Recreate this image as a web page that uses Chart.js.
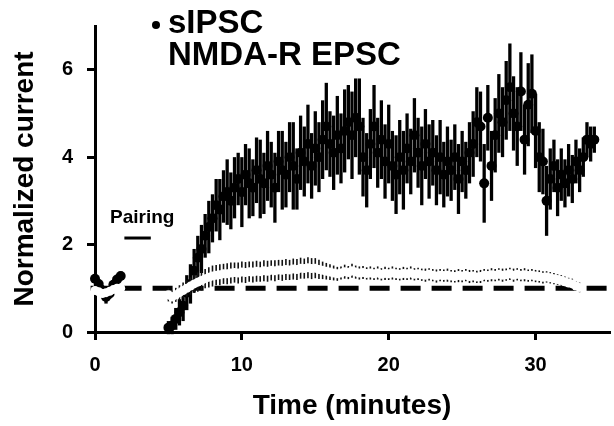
<!DOCTYPE html>
<html>
<head>
<meta charset="utf-8">
<script src="https://cdn.jsdelivr.net/npm/chart.js@4"></script>
<style>
  html, body { margin: 0; padding: 0; background: #fff; }
  #wrap { width: 614px; height: 426px; }
</style>
</head>
<body>
<div id="wrap"><canvas id="c"></canvas></div>
<script>
// time points (minutes), shared by both series
var time = [0, 0.25, 0.5, 0.75, 1.0, 1.25, 1.5, 1.75,
  5, 5.25, 5.5, 5.75, 6, 6.25, 6.5, 6.75, 7, 7.25, 7.5, 7.75, 8, 8.25, 8.5, 8.75, 9, 9.25, 9.5, 9.75,
  10, 10.25, 10.5, 10.75, 11, 11.25, 11.5, 11.75, 12, 12.25, 12.5, 12.75, 13, 13.25, 13.5, 13.75,
  14, 14.25, 14.5, 14.75, 15, 15.25, 15.5, 15.75, 16, 16.25, 16.5, 16.75, 17, 17.25, 17.5, 17.75,
  18, 18.25, 18.5, 18.75, 19, 19.25, 19.5, 19.75, 20, 20.25, 20.5, 20.75, 21, 21.25, 21.5, 21.75,
  22, 22.25, 22.5, 22.75, 23, 23.25, 23.5, 23.75, 24, 24.25, 24.5, 24.75, 25, 25.25, 25.5, 25.75,
  26, 26.25, 26.5, 26.75, 27, 27.25, 27.5, 27.75, 28, 28.25, 28.5, 28.75, 29, 29.25, 29.5, 29.75,
  30, 30.25, 30.5, 30.75, 31, 31.25, 31.5, 31.75, 32, 32.25, 32.5, 32.75, 33, 33.25, 33.5, 33.75, 34];

// sIPSC normalized amplitude and SEM
var sipsc = [1.22, 1.1, 0.95, 0.8, 0.88, 1.08, 1.2, 1.28,
  0.1, 0.15, 0.3, 0.45, 0.6,
  0.9, 1.1, 1.4, 1.7, 1.9, 2.2, 2.4, 2.6,
  2.9, 2.8, 3.1, 3.2, 3.0, 3.3, 3.5, 3.2,
  3.6, 3.4, 3.3, 3.7, 3.5, 3.4, 3.8, 3.6,
  3.3, 3.9, 3.7, 3.6, 4.0, 3.8, 3.5, 4.1,
  3.9, 4.3, 3.8, 4.2, 4.0, 4.4, 4.7, 4.3,
  4.1, 4.5, 4.2, 4.6, 4.8, 4.5, 4.9, 4.7,
  4.0, 3.7, 4.3, 4.7, 4.1, 4.4, 3.9, 4.3,
  3.8, 3.6, 4.0, 3.7, 4.2, 3.9, 4.5, 4.1,
  3.8, 4.3, 3.9, 4.1, 3.7, 4.0, 3.6, 3.9,
  3.7, 4.0, 3.5, 3.9, 3.7, 4.1, 4.3, 4.8,
  4.7, 3.4, 4.9, 3.8, 4.5, 5.0, 4.8, 5.3,
  5.6, 5.0, 4.7, 5.5, 4.4, 5.2, 5.45, 4.6,
  4.0, 3.9, 3.0, 3.5, 3.8, 3.3, 3.6, 3.4,
  3.7, 3.5, 3.9, 3.7, 4.0, 4.4, 4.3, 4.4];
var sipscErr = [0.1, 0.1, 0.12, 0.15, 0.12, 0.1, 0.1, 0.1,
  0.15, 0.2, 0.25, 0.3, 0.35,
  0.4, 0.45, 0.5, 0.5, 0.55, 0.5, 0.6, 0.55,
  0.6, 0.7, 0.6, 0.75, 0.65, 0.7, 0.6, 0.8,
  0.7, 0.8, 0.65, 0.75, 0.9, 0.7, 0.8, 0.75,
  0.8, 0.7, 0.9, 0.75, 0.8, 1.0, 0.7, 0.85,
  0.8, 0.9, 0.75, 0.85, 0.8, 0.9, 1.0, 0.75,
  0.85, 0.9, 0.8, 0.95, 0.85, 1.0, 0.9, 1.1,
  0.9, 0.85, 0.8, 0.95, 0.8, 0.9, 0.85, 0.9,
  0.8, 0.9, 0.85, 0.9, 0.8, 0.75, 0.85, 0.8,
  0.9, 0.8, 0.85, 0.75, 0.8, 0.85, 0.75, 0.8,
  0.7, 0.75, 0.8, 0.7, 0.65, 0.7, 0.75, 0.8,
  0.8, 0.9, 0.75, 0.8, 0.85, 0.9, 0.8, 0.9,
  1.0, 0.85, 0.9, 0.9, 0.8, 0.95, 0.9, 0.85,
  0.8, 0.75, 0.8, 0.7, 0.6, 0.65, 0.6, 0.55,
  0.6, 0.55, 0.5, 0.5, 0.45, 0.4, 0.4, 0.3];

// NMDA-R EPSC normalized amplitude and SEM
var nmda = [0.95, 0.92, 0.88, 0.9, 0.93, 0.97, 1.0, 1.0,
  0.85, 0.8, 0.85, 0.9, 0.95,
  1.0, 1.05, 1.1, 1.14, 1.18, 1.22, 1.25, 1.28,
  1.3, 1.31, 1.33, 1.33, 1.35, 1.36, 1.35, 1.37,
  1.36, 1.38, 1.37, 1.39, 1.38, 1.4, 1.39, 1.41,
  1.4, 1.42, 1.41, 1.43, 1.42, 1.44, 1.43, 1.46,
  1.45, 1.47, 1.45, 1.46, 1.43, 1.41, 1.39, 1.37,
  1.35, 1.33, 1.35, 1.38, 1.36, 1.4, 1.37, 1.35,
  1.36, 1.34, 1.35, 1.33, 1.35, 1.32, 1.34, 1.33,
  1.35, 1.33, 1.32, 1.34, 1.33, 1.35, 1.32, 1.33,
  1.31, 1.3, 1.32, 1.3, 1.28, 1.3, 1.29, 1.3,
  1.28, 1.27, 1.29, 1.28, 1.3, 1.27, 1.28, 1.26,
  1.27, 1.3, 1.29, 1.31, 1.3, 1.32, 1.3, 1.31,
  1.33, 1.3, 1.32, 1.3, 1.31, 1.29, 1.3, 1.28,
  1.27, 1.25, 1.26, 1.24, 1.22, 1.2, 1.18, 1.15,
  1.12, 1.1, 1.05, 1.02, null, null, null, null];
var nmdaErr = [0.08, 0.08, 0.08, 0.08, 0.08, 0.08, 0.08, 0.08,
  0.15, 0.15, 0.16, 0.17, 0.18,
  0.19, 0.2, 0.21, 0.22, 0.23, 0.22, 0.23, 0.24,
  0.23, 0.24, 0.23, 0.24, 0.24, 0.23, 0.24, 0.24,
  0.24, 0.23, 0.24, 0.24, 0.23, 0.24, 0.24, 0.23,
  0.24, 0.23, 0.24, 0.24, 0.23, 0.24, 0.24, 0.24,
  0.23, 0.24, 0.24, 0.23, 0.22, 0.2, 0.19, 0.18,
  0.17, 0.16, 0.15, 0.16, 0.15, 0.16, 0.15, 0.15,
  0.15, 0.14, 0.15, 0.14, 0.15, 0.14, 0.15, 0.14,
  0.15, 0.14, 0.14, 0.15, 0.14, 0.15, 0.14, 0.14,
  0.14, 0.15, 0.14, 0.14, 0.15, 0.14, 0.14, 0.15,
  0.14, 0.14, 0.15, 0.14, 0.14, 0.15, 0.14, 0.14,
  0.15, 0.14, 0.14, 0.15, 0.14, 0.14, 0.15, 0.14,
  0.14, 0.15, 0.14, 0.14, 0.15, 0.14, 0.14, 0.14,
  0.14, 0.14, 0.13, 0.13, 0.13, 0.12, 0.12, 0.12,
  0.12, 0.12, 0.11, 0.11, null, null, null, null];

var baselineX = [-0.3, 35];
var baselineY = [1, 1];
var pairingX = [2.0, 3.8];
var pairingY = [2.15, 2.15];

var xTicks = [0, 10, 20, 30];
var yTicks = [0, 2, 4, 6];

var legendNames = ['sIPSC', 'NMDA-R EPSC'];

function pts(xs, ys) {
  return xs.map(function(v, i) { return {x: v, y: ys[i]}; });
}

var FONT = "'Liberation Sans', Arial, sans-serif";

// draws vertical SEM bars under each dataset's points
var errorBars = {
  id: 'errorBars',
  beforeDatasetDraw: function(chart, args) {
    var ds = chart.data.datasets[args.index];
    if (!ds.errors) return;
    var ctx = chart.ctx, xs = chart.scales.x, ys = chart.scales.y;
    ctx.save();
    ctx.strokeStyle = ds.errorColor;
    ctx.lineWidth = ds.errorWidth;
    ds.data.forEach(function(p, i) {
      if (p.y == null) return;
      var px = xs.getPixelForValue(p.x);
      ctx.beginPath();
      ctx.moveTo(px, ys.getPixelForValue(p.y - ds.errors[i]));
      ctx.lineTo(px, ys.getPixelForValue(p.y + ds.errors[i]));
      ctx.stroke();
    });
    ctx.restore();
  }
};

// legend + "Pairing" label
var labels = {
  id: 'labels',
  afterDraw: function(chart) {
    var ctx = chart.ctx;
    ctx.save();
    ctx.fillStyle = '#000';
    ctx.textBaseline = 'middle';
    ctx.font = 'bold 33px ' + FONT;
    ctx.beginPath();
    ctx.arc(156, 25, 4, 0, Math.PI * 2);
    ctx.fill();
    ctx.fillText(legendNames[0], 168, 24);
    ctx.fillText(legendNames[1], 168, 56);
    ctx.font = 'bold 19px ' + FONT;
    ctx.fillText('Pairing', 110, 218);
    ctx.restore();
  }
};

new Chart(document.getElementById('c'), {
  type: 'scatter',
  data: {
    datasets: [{
      label: legendNames[1],
      data: pts(time, nmda),
      errors: nmdaErr,
      errorColor: '#111',
      errorWidth: 1.6,
      pointRadius: 4.5,
      pointBackgroundColor: '#fff',
      pointBorderWidth: 0,
      clip: false
    }, {
      label: legendNames[0],
      data: pts(time, sipsc),
      errors: sipscErr,
      errorColor: '#000',
      errorWidth: 3.3,
      pointRadius: 5,
      pointBackgroundColor: '#000',
      pointBorderWidth: 0,
      clip: false
    }, {
      label: 'baseline',
      type: 'line',
      data: pts(baselineX, baselineY),
      borderColor: '#000',
      borderWidth: 5,
      borderDash: [20, 11],
      pointRadius: 0,
      clip: false
    }, {
      label: 'Pairing',
      type: 'line',
      data: pts(pairingX, pairingY),
      borderColor: '#000',
      borderWidth: 3,
      pointRadius: 0
    }]
  },
  options: {
    responsive: true,
    maintainAspectRatio: false,
    animation: false,
    layout: { padding: { top: 18, right: 0, left: 0, bottom: 0 } },
    plugins: {
      legend: { display: false },
      tooltip: { enabled: false }
    },
    scales: {
      x: {
        type: 'linear',
        min: 0,
        max: 35,
        afterFit: function(s) { s.height = 94; },
        afterBuildTicks: function(s) { s.ticks = xTicks.map(function(v) { return {value: v}; }); },
        grid: { drawOnChartArea: false, color: '#000', lineWidth: 3, tickLength: 8 },
        border: { color: '#000', width: 3 },
        ticks: { color: '#000', padding: 13, font: { family: FONT, size: 20, weight: 'bold' } },
        title: {
          display: true,
          text: 'Time (minutes)',
          color: '#000',
          font: { family: FONT, size: 28, weight: 'bold' },
          padding: { top: 0, bottom: 3 }
        }
      },
      y: {
        min: 0,
        max: 7,
        afterFit: function(s) { s.width = 95; },
        afterBuildTicks: function(s) { s.ticks = yTicks.map(function(v) { return {value: v}; }); },
        grid: { drawOnChartArea: false, color: '#000', lineWidth: 3, tickLength: 8 },
        border: { color: '#000', width: 3 },
        ticks: { color: '#000', padding: 14, font: { family: FONT, size: 20, weight: 'bold' } },
        title: {
          display: true,
          text: 'Normalized current',
          color: '#000',
          font: { family: FONT, size: 28, weight: 'bold' },
          padding: { top: 8, bottom: 0 }
        }
      }
    }
  },
  plugins: [errorBars, labels]
});
</script>
</body>
</html>
